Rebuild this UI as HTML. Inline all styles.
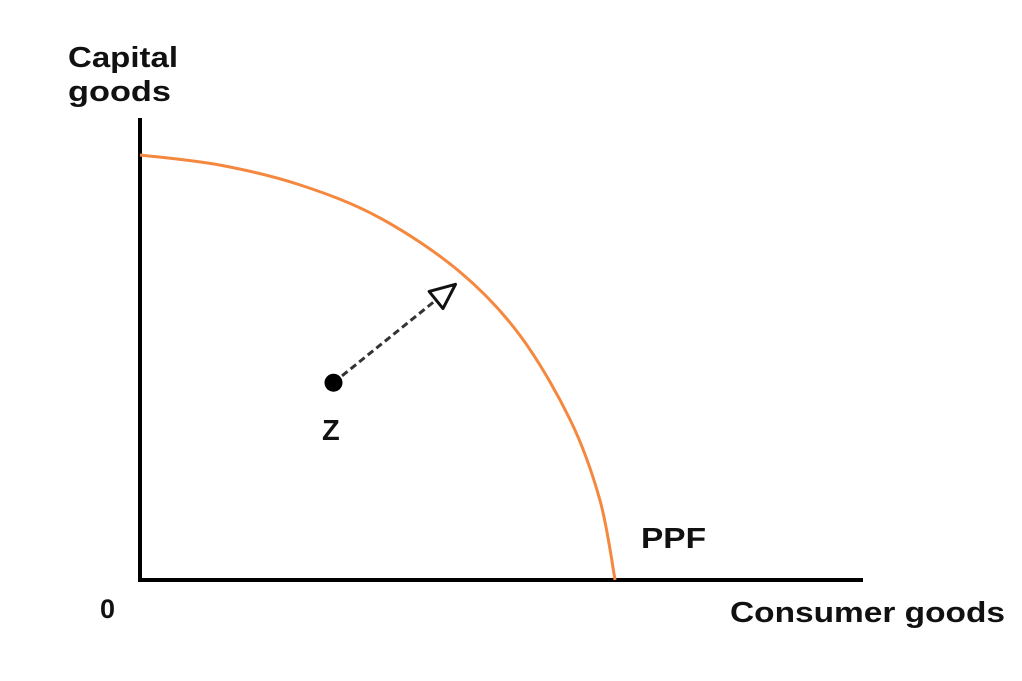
<!DOCTYPE html>
<html><head><meta charset="utf-8"><style>
body{margin:0;background:#fff}
svg{display:block}
text{font-family:"Liberation Sans",sans-serif;font-weight:bold;fill:#111}
</style></head><body>
<svg id="chart" width="1022" height="681" viewBox="0 0 1022 681">
<text x="68" y="67" font-size="29" textLength="110" lengthAdjust="spacingAndGlyphs">Capital</text>
<text x="68" y="101" font-size="29" textLength="103" lengthAdjust="spacingAndGlyphs">goods</text>
<text x="730" y="622" font-size="29" textLength="275" lengthAdjust="spacingAndGlyphs">Consumer goods</text>
<text x="100" y="618" font-size="27">0</text>
<line x1="140" y1="118" x2="140" y2="582" stroke="#000" stroke-width="4"/>
<line x1="138" y1="580" x2="863" y2="580" stroke="#000" stroke-width="4"/>
<g id="marks"></g>
<text x="641" y="548" font-size="29" textLength="65" lengthAdjust="spacingAndGlyphs">PPF</text>
<text x="322" y="440" font-size="29">Z</text>
</svg>
<script>
const ppfX=[0,1.11,2.22,3.32,4.43,5.26,5.96,6.37,6.58];
const ppfY=[9.2,8.98,8.55,7.84,6.67,5.3,3.46,1.73,0];
const pointZ=[2.68,4.27];
const arrowTip=[4.37,6.4];
const sx=v=>140+72.2*v, sy=v=>580-46.2*v;
const g=document.getElementById('marks');
const NS='http://www.w3.org/2000/svg';
const P=ppfX.map((x,i)=>[sx(x),sy(ppfY[i])]);
let d='M'+P[0][0]+','+P[0][1];
for(let i=0;i<P.length-1;i++){
 const p0=P[Math.max(i-1,0)],p1=P[i],p2=P[i+1],p3=P[Math.min(i+2,P.length-1)];
 d+=' C'+(p1[0]+(p2[0]-p0[0])/6)+','+(p1[1]+(p2[1]-p0[1])/6)+' '+(p2[0]-(p3[0]-p1[0])/6)+','+(p2[1]-(p3[1]-p1[1])/6)+' '+p2[0]+','+p2[1];
}
const c=document.createElementNS(NS,'path');


c.setAttribute('d',d);c.setAttribute('fill','none');c.setAttribute('stroke','#f5883f');c.setAttribute('stroke-width','3');
g.appendChild(c);
const zx=sx(pointZ[0]),zy=sy(pointZ[1]),tx=sx(arrowTip[0]),ty=sy(arrowTip[1]);
const ang=Math.atan2(ty-zy,tx-zx);
const L=25,W=11;
const bx=tx-L*Math.cos(ang),by=ty-L*Math.sin(ang);
const ln=document.createElementNS(NS,'line');


ln.setAttribute('x1',zx);ln.setAttribute('y1',zy);ln.setAttribute('x2',bx);ln.setAttribute('y2',by);
ln.setAttribute('stroke','#333');ln.setAttribute('stroke-width','3');ln.setAttribute('stroke-dasharray','7,4');
g.appendChild(ln);
const px=-Math.sin(ang),py=Math.cos(ang);
const tri=document.createElementNS(NS,'polygon');


tri.setAttribute('points',tx+','+ty+' '+(bx+px*W)+','+(by+py*W)+' '+(bx-px*W)+','+(by-py*W));
tri.setAttribute('fill','#fff');tri.setAttribute('stroke','#111');tri.setAttribute('stroke-width','3');tri.setAttribute('stroke-linejoin','round');
g.appendChild(tri);
const dot=document.createElementNS(NS,'circle');


dot.setAttribute('cx',zx);dot.setAttribute('cy',zy);dot.setAttribute('r','9');dot.setAttribute('fill','#000');
g.appendChild(dot);
</script>
</body></html>
